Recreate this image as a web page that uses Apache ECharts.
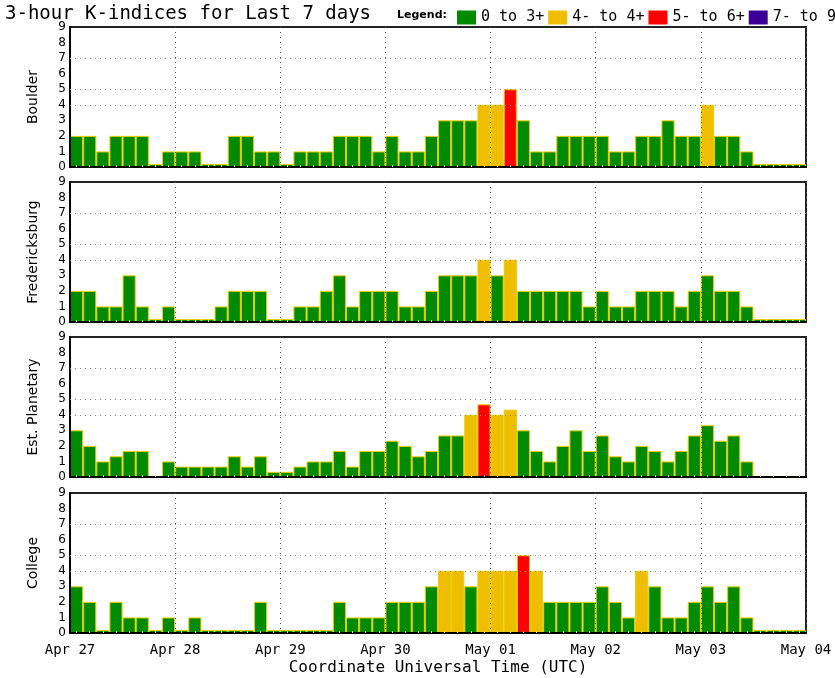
<!DOCTYPE html>
<html>
<head>
    <meta charset="utf-8" />
    <title>3-hour K-indices</title>
    <script src="https://cdn.jsdelivr.net/npm/echarts@6/dist/echarts.min.js"></script>
</head>
<body style="margin:0">
    <div id="main" style="width:835px;height:678px;"></div>
    <script type="text/javascript">
        // station names, one panel each
        var stations = ['Boulder', 'Fredericksburg', 'Est. Planetary', 'College'];
        // 8 values a day, Apr 27 .. May 03 (null = no value)
        var boulder = [2, 2, 1, 2, 2, 2, 0, 1, 1, 1, 0, 0, 2, 2, 1, 1, 0, 1, 1, 1, 2, 2, 2, 1,
            2, 1, 1, 2, 3, 3, 3, 4, 4, 5, 3, 1, 1, 2, 2, 2, 2, 1, 1, 2, 2, 3, 2, 2, 4, 2, 2, 1, 0, 0, 0, 0];
        var fredericksburg = [2, 2, 1, 1, 3, 1, 0, 1, 0, 0, 0, 1, 2, 2, 2, 0, 0, 1, 1, 2, 3, 1, 2, 2,
            2, 1, 1, 2, 3, 3, 3, 4, 3, 4, 2, 2, 2, 2, 2, 1, 2, 1, 1, 2, 2, 2, 1, 2, 3, 2, 2, 1, 0, 0, 0, 0];
        var planetary = [3, 2, 1, 1.33, 1.67, 1.67, null, 1, 0.67, 0.67, 0.67, 0.67, 1.33, 0.67, 1.33, 0.33,
            0.33, 0.67, 1, 1, 1.67, 0.67, 1.67, 1.67, 2.33, 2, 1.33, 1.67, 2.67, 2.67, 4, 4.67,
            4, 4.33, 3, 1.67, 1, 2, 3, 1.67, 2.67, 1.33, 1, 2, 1.67, 1, 1.67, 2.67,
            3.33, 2.33, 2.67, 1, null, null, null, null];
        var college = [3, 2, 0, 2, 1, 1, 0, 1, 0, 1, 0, 0, 0, 0, 2, 0, 0, 0, 0, 0, 2, 1, 1, 1,
            2, 2, 2, 3, 4, 4, 3, 4, 4, 4, 5, 4, 2, 2, 2, 2, 3, 2, 1, 4, 3, 1, 1, 2, 3, 2, 3, 1, 0, 0, 0, 0];
        var dayLabels = ['Apr 27', 'Apr 28', 'Apr 29', 'Apr 30', 'May 01', 'May 02', 'May 03', 'May 04'];
        var hours = ['00', '03', '06', '09', '12', '15', '18', '21'];
        var gridLevels = [4, 5, 7];
        var legendNames = ['0 to 3+', '4- to 4+', '5- to 6+', '7- to 9'];
        var legendLimits = [3.5, 4.5, 6.5];

        var allData = [boulder, fredericksburg, planetary, college];
        var colors = ['#008a00', '#f0be00', '#ff0000', '#3c0096'];
        var font = 'DejaVu Sans';
        var mono = 'DejaVu Sans Mono';

        var slots = [];
        for (var d = 0; d < 7; d++) {
            for (var h = 0; h < hours.length; h++) {
                slots.push(dayLabels[d] + ' ' + hours[h]);
            }
        }

        function kColor(v) {
            for (var i = 0; i < legendLimits.length; i++) {
                if (v < legendLimits[i]) return colors[i];
            }
            return colors[3];
        }

        var myChart = echarts.init(document.getElementById('main'));
        var tops = [27, 182, 337, 493];
        var grids = [], xAxes = [], yAxes = [], series = [];

        for (var i = 0; i < stations.length; i++) {
            var last = (i == stations.length - 1);
            grids.push({
                left: 70, right: 29, top: tops[i], height: 140,
                show: true, borderColor: '#222', borderWidth: 2
            });
            xAxes.push({
                type: 'category', gridIndex: i, data: slots, position: 'bottom',
                boundaryGap: true, z: 3,
                axisLine: { lineStyle: { color: '#000', width: 2 } },
                axisTick: { show: true, inside: true, length: 2, alignWithLabel: true, interval: 0,
                    lineStyle: { color: '#d8e070' } },
                axisLabel: { show: false },
                splitLine: { show: false }
            });
            // day boundaries
            xAxes.push({
                type: 'value', gridIndex: i, min: 0, max: 7, interval: 1, position: 'bottom', z: 3,
                axisLine: { show: false },
                axisTick: { show: false },
                axisLabel: {
                    show: last, margin: 10, fontFamily: mono, fontSize: 14, color: '#000',
                    formatter: function (v) { return dayLabels[v]; }
                },
                splitLine: { show: true, lineStyle: { color: '#555', type: [1, 4], width: 1 } },
                name: last ? 'Coordinate Universal Time (UTC)' : '',
                nameLocation: 'middle', nameGap: 27,
                nameTextStyle: { fontFamily: mono, fontSize: 16, color: '#000' }
            });
            yAxes.push({
                type: 'value', gridIndex: i, min: 0, max: 9, interval: 1, z: 3,
                axisLine: { show: true, lineStyle: { color: '#000', width: 2 } },
                axisTick: { show: false },
                axisLabel: { margin: 4, fontFamily: font, fontSize: 12, color: '#000' },
                splitLine: { show: false },
                name: stations[i], nameLocation: 'middle', nameRotate: 90, nameGap: 30,
                nameTextStyle: { fontFamily: font, fontSize: 14, color: '#000' }
            });
            series.push({
                type: 'bar', xAxisIndex: 2 * i, yAxisIndex: i,
                data: allData[i],
                barCategoryGap: '0%', barMinHeight: 3,
                itemStyle: {
                    color: function (p) { return kColor(p.value); },
                    borderColor: '#e8cc00', borderWidth: 1
                },
                markLine: {
                    silent: true, symbol: 'none', label: { show: false },
                    lineStyle: { color: '#888', type: [1, 4], width: 1 },
                    data: gridLevels.map(function (v) { return { yAxis: v }; })
                }
            });
        }

        // empty series only to feed the legend
        for (var k = 0; k < legendNames.length; k++) {
            series.push({
                type: 'scatter', name: legendNames[k], xAxisIndex: 1, yAxisIndex: 0,
                data: [], itemStyle: { color: colors[k], opacity: 1 }
            });
        }

        var option = {
            animation: false,
            backgroundColor: '#fff',
            title: [
                { text: '3-hour K-indices for Last 7 days', left: 0, top: 0,
                    textStyle: { fontFamily: mono, fontSize: 19, fontWeight: 'normal', color: '#000' } },
                { text: 'Legend:', left: 392, top: 5,
                    textStyle: { fontFamily: font, fontSize: 11, fontWeight: 'bold', color: '#000' } }
            ],
            legend: {
                data: legendNames, left: 452, top: 5, width: 500, icon: 'rect',
                itemWidth: 19, itemHeight: 14, itemGap: 4, selectedMode: false,
                itemStyle: { opacity: 1 },
                textStyle: { fontFamily: mono, fontSize: 15, color: '#000' }
            },
            grid: grids,
            xAxis: xAxes,
            yAxis: yAxes,
            series: series
        };
        myChart.setOption(option);
    </script>
</body>
</html>
